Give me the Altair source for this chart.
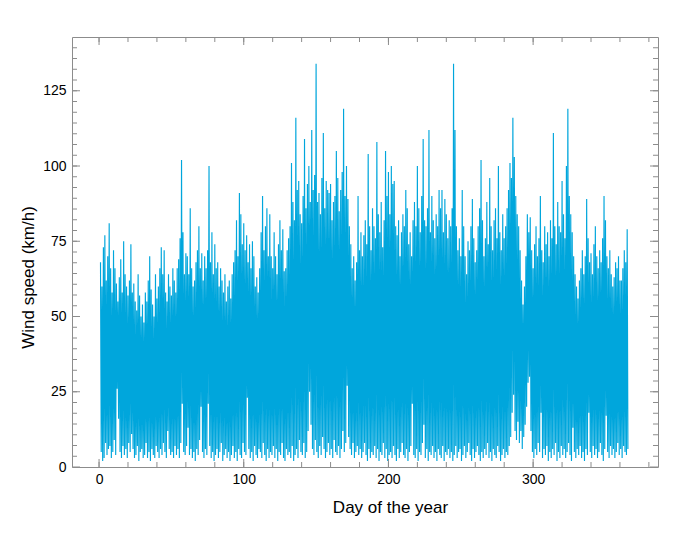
import altair as alt
import pandas as pd

# Daily maxima and minima of the hourly wind speed (km/h)
day_max = [
    68, 60, 73, 77, 62, 70, 81, 66, 58, 72,
    66, 61, 55, 63, 69, 58, 75, 64, 60, 57,
    62, 74, 58, 61, 55, 52, 64, 57, 50, 54,
    48, 58, 55, 62, 70, 59, 54, 50, 64, 56,
    60, 66, 73, 64, 72, 58, 55, 64, 60, 57,
    66, 62, 58, 66, 69, 76, 102, 78, 64, 71,
    70, 64, 86, 66, 60, 62, 68, 72, 80, 66,
    71, 62, 70, 66, 72, 100, 68, 78, 64, 74,
    66, 68, 60, 66, 62, 58, 64, 55, 60, 62,
    56, 64, 68, 72, 82, 70, 91, 84, 74, 81,
    72, 77, 68, 74, 66, 75, 70, 60, 63, 58,
    66, 78, 90, 72, 80, 86, 70, 84, 70, 66,
    78, 70, 64, 74, 82, 72, 79, 65, 66, 72,
    76, 80, 101, 88, 82, 116, 92, 95, 84, 81,
    90, 109, 86, 94, 100, 88, 112, 92, 97, 134,
    88, 91, 84, 96, 111, 86, 95, 92, 91, 94,
    82, 88, 90, 105, 96, 85, 92, 98, 119, 90,
    100, 89, 80, 74, 66, 70, 62, 68, 90, 72,
    78, 70, 77, 82, 74, 104, 80, 72, 86, 80,
    76, 108, 84, 78, 88, 73, 82, 105, 90, 98,
    84, 100, 94, 95, 80, 77, 82, 70, 78, 84,
    80, 92, 86, 74, 78, 70, 82, 88, 80, 100,
    86, 78, 90, 109, 82, 80, 86, 112, 78, 90,
    82, 76, 84, 80, 92, 86, 92, 78, 89, 84,
    76, 82, 80, 86, 134, 112, 80, 72, 76, 70,
    92, 80, 70, 64, 75, 72, 80, 89, 76, 68,
    72, 80, 86, 102, 82, 70, 76, 88, 74, 96,
    80, 72, 82, 86, 76, 100, 78, 72, 84, 76,
    80, 86, 92, 101, 96, 116, 103, 90, 84, 80,
    72, 62, 54, 60, 70, 84, 78, 83, 72, 66,
    74, 80, 70, 76, 90, 72, 68, 80, 74, 78,
    70, 82, 76, 111, 80, 74, 88, 80, 78, 95,
    84, 76, 100, 119, 90, 84, 78, 70, 64, 60,
    56, 62, 66, 72, 64, 70, 89, 76, 68, 71,
    64, 74, 80, 70, 66, 72, 68, 76, 90, 82,
    70, 66, 72, 64, 60, 63, 68, 66, 70, 62,
    62, 66, 72, 68, 79,
]
day_min = [
    5, 2, 3, 8, 4, 6, 7, 3, 5, 9,
    4, 26, 16, 5, 3, 7, 4, 6, 3, 8,
    5, 11, 6, 3, 4, 7, 2, 5, 6, 3,
    4, 8, 3, 5, 2, 6, 4, 3, 7, 5,
    3, 6, 4, 8, 5, 3, 12, 6, 4, 5,
    3, 7, 4, 6, 3, 8, 21, 5, 4, 7,
    13, 4, 6, 3, 5, 2, 6, 4, 9, 20,
    5, 3, 6, 4, 21, 7, 3, 5, 2, 4,
    6, 3, 5, 8, 2, 4, 6, 3, 5, 2,
    4, 7, 3, 5, 2, 6, 4, 3, 8, 5,
    4, 23, 6, 3, 5, 2, 7, 4, 3, 6,
    5, 3, 8, 4, 2, 6, 3, 5, 4, 7,
    3, 6, 2, 5, 4, 8, 3, 2, 6, 4,
    5, 3, 7, 2, 4, 6, 3, 9, 5, 4,
    8, 3, 5, 12, 25, 14, 6, 4, 9, 5,
    3, 7, 4, 10, 6, 3, 5, 8, 4, 6,
    3, 9, 5, 4, 7, 3, 6, 12, 5, 8,
    27, 10, 6, 4, 8, 3, 5, 7, 4, 6,
    3, 5, 8, 4, 2, 6, 3, 5, 4, 7,
    3, 6, 2, 5, 4, 8, 3, 6, 2, 4,
    5, 3, 7, 4, 2, 6, 3, 5, 8, 4,
    3, 6, 2, 5, 7, 21, 4, 3, 6, 2,
    5, 4, 8, 14, 3, 6, 2, 5, 4, 7,
    3, 5, 2, 6, 4, 3, 7, 2, 5, 4,
    6, 3, 5, 2, 4, 7, 3, 5, 6, 2,
    4, 7, 3, 5, 8, 4, 2, 6, 3, 5,
    7, 4, 2, 5, 3, 6, 4, 8, 3, 5,
    2, 6, 4, 3, 7, 5, 2, 4, 6, 3,
    5, 4, 7, 10, 18, 24, 12, 9, 15, 8,
    12, 6, 10, 14, 20, 28, 30, 12, 5, 3,
    6, 4, 8, 5, 18, 3, 6, 4, 7, 2,
    5, 3, 6, 4, 8, 2, 5, 3, 7, 4,
    6, 3, 5, 8, 4, 2, 13, 5, 3, 6,
    4, 7, 3, 5, 2, 6, 4, 18, 5, 3,
    7, 4, 6, 3, 5, 8, 4, 2, 6, 17,
    5, 3, 7, 4, 6, 3, 5, 8, 4, 6,
    3, 7, 5, 4, 6,
]
first_day = 1

x_major = [0, 100, 200, 300]
x_minor = [20 * i for i in range(20)]
y_major = [0, 25, 50, 75, 100, 125]
y_minor = [i * 25 / 7 for i in range(1, 40)]

rows = []
for i, (hi, lo) in enumerate(zip(day_max, day_min)):
    d = first_day + i
    rows.append({"day": d, "speed": hi})
    rows.append({"day": d + 0.5, "speed": lo})
df = pd.DataFrame(rows)

W, H = 586, 430
BLUE = "#00a6dc"
GRAY = "#8c8c8c"
FONT = "Liberation Sans"
xs = alt.Scale(domain=[-18.7, 386.3], nice=False, zero=False)
ys = alt.Scale(domain=[0, 1000 / 7], nice=False, zero=False)

x_axis = alt.Axis(
    values=x_major, ticks=False, domain=False, grid=False,
    labelFontSize=14, labelPadding=5, labelColor="black", labelFont=FONT,
    title="Day of the year", titleFontSize=17, titleFontWeight="normal",
    titleColor="black", titleFont=FONT, titleX=318, titleY=32)
y_axis = alt.Axis(
    values=y_major, ticks=False, domain=False, grid=False,
    labelFontSize=14, labelPadding=6, labelColor="black", labelFont=FONT,
    title="Wind speed (km/h)", titleFontSize=17, titleFontWeight="normal",
    titleColor="black", titleFont=FONT, titleX=-35, titleY=240)

line = alt.Chart(df).mark_line(color=BLUE, strokeWidth=1.15, clip=True).encode(
    x=alt.X("day:Q", scale=xs, axis=x_axis),
    y=alt.Y("speed:Q", scale=ys, axis=y_axis),
)


def xticks(vals, length):
    d = pd.DataFrame({"day": vals})
    bottom = alt.Chart(d).mark_rule(color=GRAY, strokeWidth=1).encode(
        x=alt.X("day:Q", scale=xs, axis=x_axis), y=alt.value(H), y2=alt.value(H - length))
    top = alt.Chart(d).mark_rule(color=GRAY, strokeWidth=1).encode(
        x=alt.X("day:Q", scale=xs, axis=x_axis), y=alt.value(0), y2=alt.value(length))
    return [bottom, top]


def yticks(vals, length):
    d = pd.DataFrame({"speed": vals})
    left = alt.Chart(d).mark_rule(color=GRAY, strokeWidth=1).encode(
        y=alt.Y("speed:Q", scale=ys, axis=y_axis), x=alt.value(0), x2=alt.value(length))
    right = alt.Chart(d).mark_rule(color=GRAY, strokeWidth=1).encode(
        y=alt.Y("speed:Q", scale=ys, axis=y_axis), x=alt.value(W), x2=alt.value(W - length))
    return [left, right]


layers = [line] + xticks(x_minor, 5) + xticks(x_major, 8) + yticks(y_minor, 5) + yticks(y_major, 8)

chart = alt.layer(*layers).properties(
    width=W, height=H,
    padding={"left": 72, "top": 37, "right": 42, "bottom": 72},
    autosize=alt.AutoSizeParams(type="none"),
).configure_view(stroke=GRAY, strokeWidth=1)

chart.save("out.html", embed_options={"renderer": "svg", "actions": False})
